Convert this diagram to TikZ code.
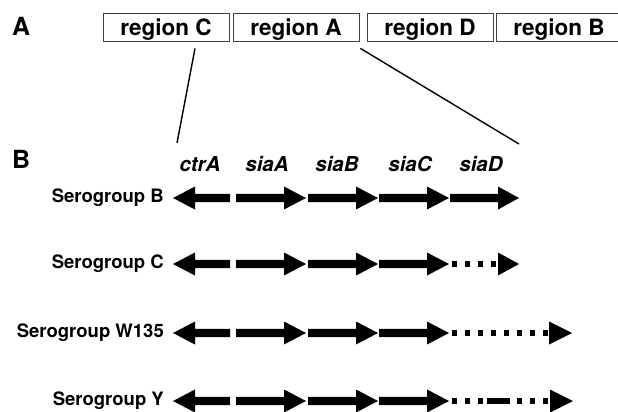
\documentclass[tikz,border=0pt]{standalone}
\usepackage{fontspec}
\setmainfont{TeX Gyre Heros}
\usetikzlibrary{calc}

\tikzset{
  regionbox/.style={draw=black!75, line width=0.8pt, minimum width=126pt, minimum height=28pt,
    inner sep=0pt, text height=18pt, text depth=0pt, font=\fontsize{22.5}{22.5}\selectfont\bfseries},
  genelabel/.style={anchor=base, inner sep=0pt, font=\fontsize{20.5}{20.5}\selectfont\bfseries\itshape},
  grouplabel/.style={anchor=base east, inner sep=0pt, font=\fontsize{18.5}{18.5}\selectfont\bfseries},
  panel/.style={anchor=base west, inner sep=0pt, font=\fontsize{25}{25}\selectfont\bfseries},
  zoomline/.style={line width=1.4pt},
  dotted gene/.style={line width=6pt, dash pattern=on 4.5pt off 8.5pt},
}

% shaft from #1 to #2, head from #2 to tip #3, on row #4
\newcommand{\genearrow}[4]{\fill (#1,#4-4.2) -- (#2,#4-4.2) -- (#2,#4-11.5) -- (#3,#4) -- (#2,#4+11.5) -- (#2,#4+4.2) -- (#1,#4+4.2) -- cycle;}
\newcommand{\genehead}[3]{\fill (#1,#3-11.5) -- (#2,#3) -- (#1,#3+11.5) -- cycle;}

\begin{document}
\begin{tikzpicture}[x=1pt, y=-1pt]
\useasboundingbox (0,0) rectangle (618,412);

% panel A
\node [panel] (pA) at (12,36) {A};
\node [regionbox] (regC) at (166,27) {region C};
\node [regionbox] (regA) at (296,27) {region A};
\node [regionbox] (regD) at (430,27) {region D};
\node [regionbox] (regB) at (559,27) {region B};

\coordinate (zoomL) at (177,143);
\coordinate (zoomR) at (519,144);
\draw [zoomline] ($(regC.south)+(29,7)$) -- (zoomL);
\draw [zoomline] ($(regA.south east)+(1,7)$) -- (zoomR);

% panel B
\node [panel] (pB) at (12,168) {B};
\node [genelabel] (lctrA) at (200,171) {ctrA};
\node [genelabel] (lsiaA) at (267,171) {siaA};
\node [genelabel] (lsiaB) at (337,171) {siaB};
\node [genelabel] (lsiaC) at (410,171) {siaC};
\node [genelabel] (lsiaD) at (481,171) {siaD};

\node [grouplabel] (sgB) at (164,202) {Serogroup B};
\node [grouplabel] (sgC) at (164,268) {Serogroup C};
\node [grouplabel] (sgW) at (164,337) {Serogroup W135};
\node [grouplabel] (sgY) at (164,405) {Serogroup Y};

\foreach \y in {198,264,333,401} {
  \genearrow{230}{195}{173}{\y}
  \genearrow{236}{284}{306}{\y}
  \genearrow{308}{356}{378}{\y}
  \genearrow{379}{427}{449}{\y}
}

% siaD
\genearrow{450}{498}{519}{198}
\draw [dotted gene] (452,264) -- (498,264);
\genehead{498}{519}{264}
\draw [dotted gene] (452,333) -- (549,333);
\genehead{549}{572}{333}
\draw [dotted gene, dash pattern=on 4.5pt off 8.5pt on 4.5pt off 8.5pt on 4.5pt off 4.5pt on 23pt off 7pt on 4.5pt off 8.5pt on 4.5pt off 8.5pt on 4.5pt off 8.5pt]
  (452,401) -- (550,401);
\genehead{550}{573}{401}
\end{tikzpicture}
\end{document}
